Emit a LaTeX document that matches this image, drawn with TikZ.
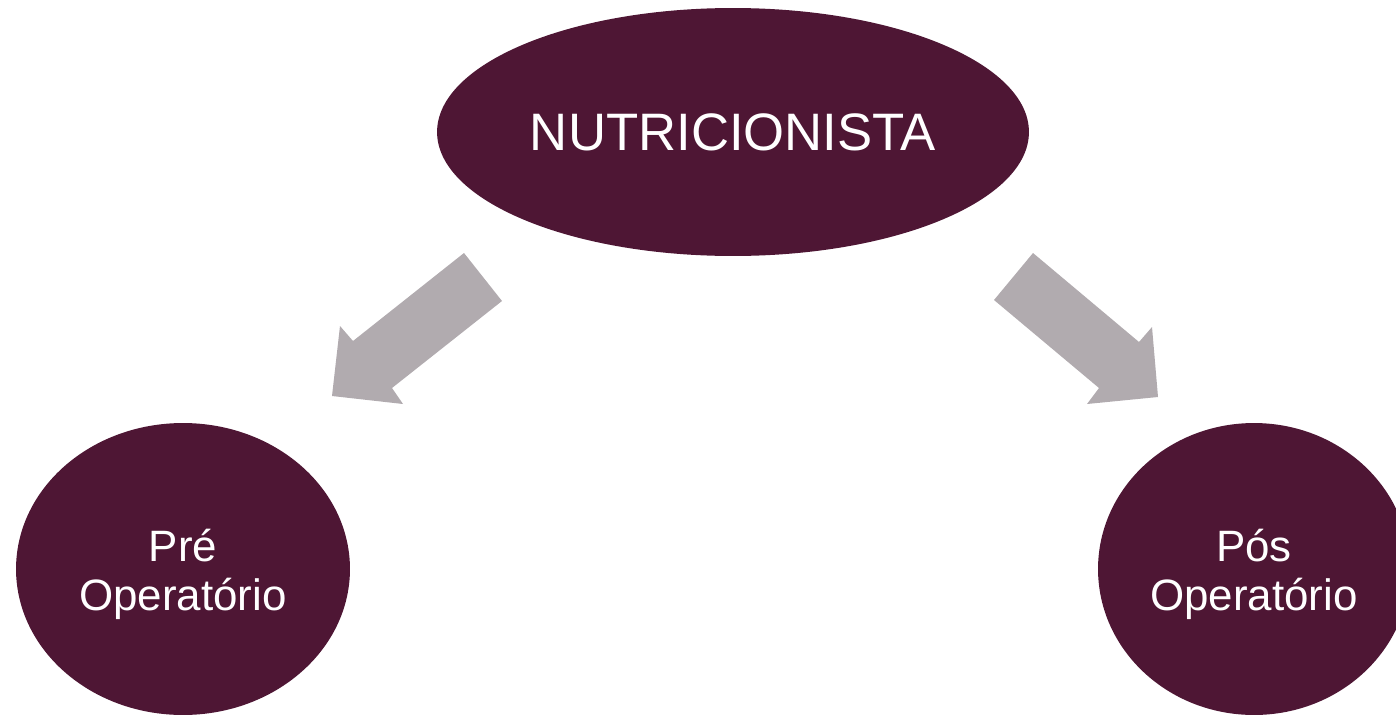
\documentclass[tikz,border=0pt]{standalone}
\usepackage{fontspec}
\setmainfont{Liberation Sans}
\usetikzlibrary{shapes.geometric}
\definecolor{maroon}{HTML}{4E1634}
\definecolor{arrowgray}{HTML}{B1ABAF}
\tikzset{
  blob/.style={ellipse, fill=maroon, draw=none, text=white, inner sep=0pt, align=center},
  phase/.style={blob, minimum height=5.84cm, font=\fontsize{25}{27.8}\selectfont},
  blockarrow/.style={fill=arrowgray, draw=none}
}
\begin{document}
\begin{tikzpicture}[x=0.02cm, y=-0.02cm]
\useasboundingbox (0,0) rectangle (1396,717);
\clip (0,0) rectangle (1396,717);
\node[blob, minimum width=11.84cm, minimum height=4.96cm, font=\fontsize{30}{34}\selectfont] (nutri) at (733,132) {NUTRICIONISTA};
\node[phase, minimum width=6.68cm] (pre) at (183,569) {};
\node[phase, minimum width=6.24cm] (pos) at (1254,569) {};
\node[text=white, align=center, inner sep=0pt, font=\fontsize{25}{27.8}\selectfont] (pretext) at ([yshift=-0.1cm]pre.center) {Pré\\Operatório};
\node[text=white, align=center, inner sep=0pt, font=\fontsize{25}{27.8}\selectfont] (postext) at ([yshift=-0.1cm]pos.center) {Pós\\Operatório};
\fill[blockarrow] (464,253) -- (502,301) -- (392,388) -- (403,404) -- (332,396) -- (340,326) -- (353,341) -- cycle;
\fill[blockarrow] (1033,253) -- (994,300) -- (1099,388) -- (1087,404) -- (1158,397) -- (1152,327) -- (1139,342) -- cycle;
\end{tikzpicture}
\end{document}
